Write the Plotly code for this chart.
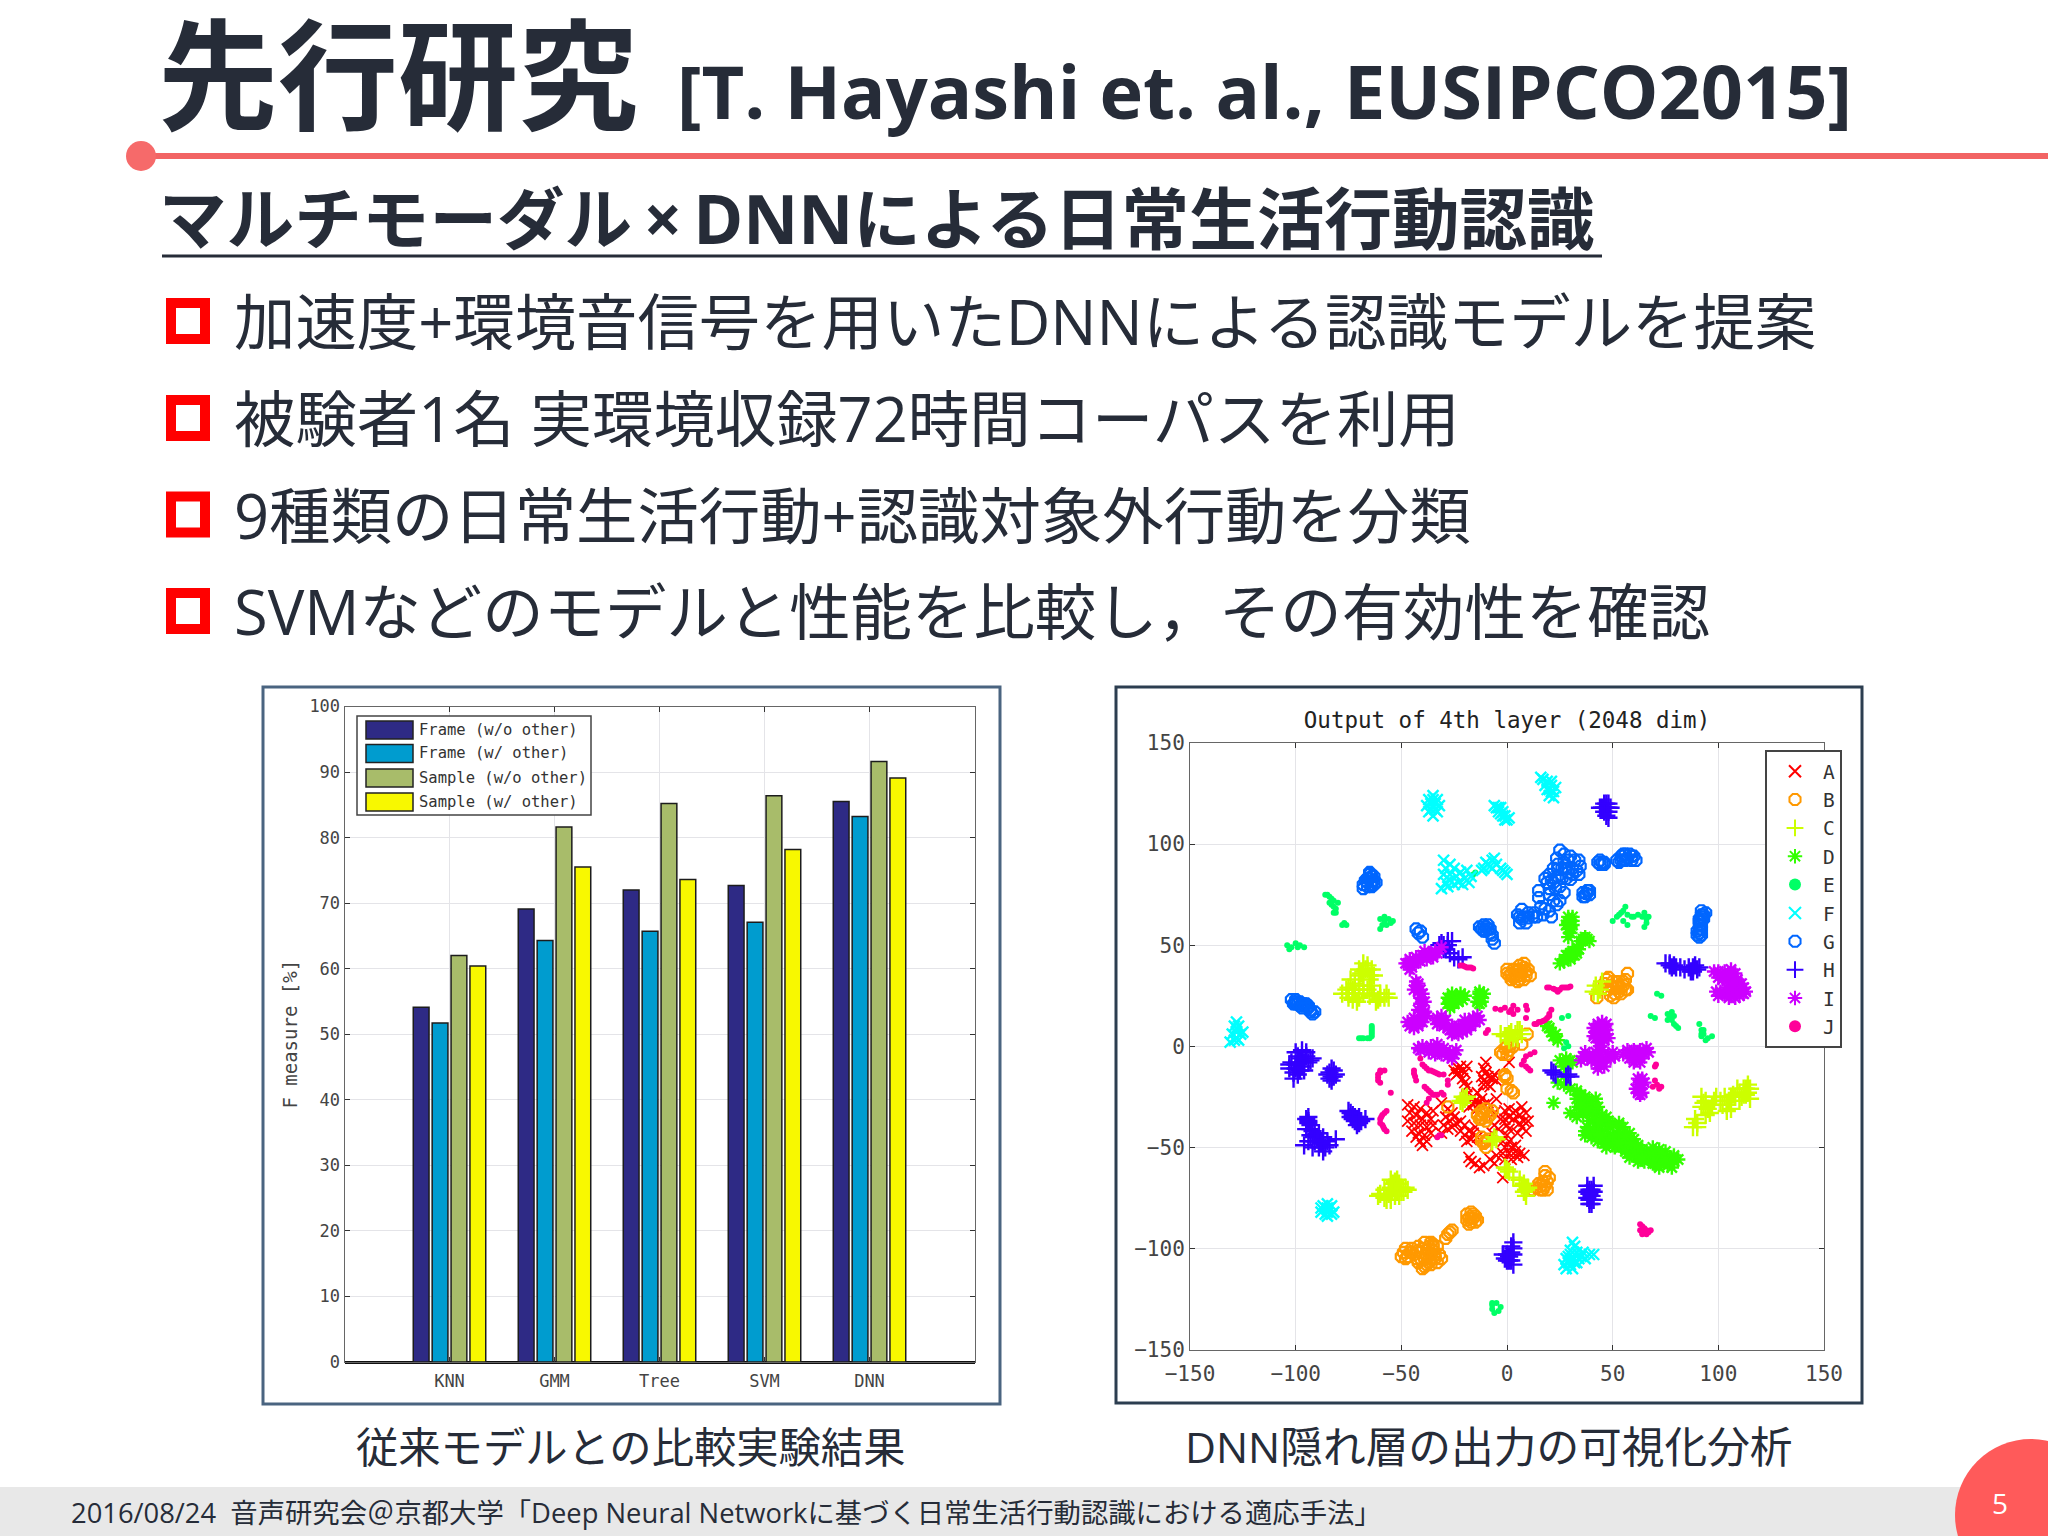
import plotly.graph_objects as go

W, H = 2048, 1536
DARK = "#262c38"
MONO = "DejaVu Sans Mono"
SANS = "Open Sans, Noto Sans CJK JP"
CJK = "Noto Sans CJK JP"

# ---------- bar chart data ----------
categories = ["KNN", "GMM", "Tree", "SVM", "DNN"]
series_names = ["Frame (w/o other)", "Frame (w/ other)", "Sample (w/o other)", "Sample (w/ other)"]
series_colors = ["#2e2a85", "#009ccf", "#a8bc6a", "#f8f800"]
frame_wo = [54.1, 69.1, 72.0, 72.7, 85.5]
frame_w = [51.7, 64.3, 65.7, 67.1, 83.2]
sample_wo = [62.0, 81.6, 85.2, 86.4, 91.6]
sample_w = [60.4, 75.5, 73.6, 78.2, 89.1]
bar_ticks = [0, 10, 20, 30, 40, 50, 60, 70, 80, 90, 100]
scatter_ticks = [-150, -100, -50, 0, 50, 100, 150]

# ---------- scatter data ----------
A = [(-47,-29),(-44,-30),(-41,-31),(-38,-33),(-35,-32),(-46,-33),(-43,-34),(-40,-36),(-36,-36),(-47,-37),(-44,-38),(-41,-39),(-38,-40),(-35,-39),(-45,-42),(-42,-43),(-39,-44),(-36,-43),(-41,-47),(-38,-47),(-43,-45),(-40,-49),
     (-31,-28),(-28,-31),(-26,-33),(-29,-35),(-27,-37),(-25,-35),(-30,-39),(-28,-41),(-26,-40),(-31,-43),(-24,-38),
     (-25,-12),(-23,-11),(-21,-12),(-23,-13),(-22,-10),(-24,-14),(-20,-13),(-19,-10),(-20,-18),(-19,-20),(-21,-16),
     (-19,-24),(-17,-26),(-15,-27),(-13,-28),(-11,-29),(-9,-28),(-16,-29),(-14,-31),(-18,-30),(-12,-26),(-14,-23),(-16,-25),
     (-10,-8),(-11,-11),(-10,-13),(-9,-15),(-12,-15),(-7,-16),(-11,-17),(-9,-19),(-6,-14),(-11,-19),(-8,-20),(-5,-17),(-5,-26),
     (-22,-37),(-20,-39),(-18,-42),(-22,-42),(-20,-44),(-17,-46),(-15,-40),(-14,-45),(-19,-47),(-16,-43),
     (-6,-33),(-3,-36),(-6,-39),(-4,-41),(-7,-43),(-1,-32),(1,-35),(3,-33),(-1,-36),
     (1,-31),(4,-32),(7,-30),(9,-33),(6,-34),(3,-36),(0,-39),(6,-38),(8,-37),(10,-37),(7,-40),(9,-42),(5,-43),(1,-41),
     (0,-44),(-2,-47),(1,-47),(-1,-50),(2,-50),(4,-49),(-2,-53),(1,-53),(4,-52),(6,-53),(-1,-56),(2,-56),(5,-55),(8,-54),
     (-18,-55),(-17,-57),(-15,-58),(-13,-60),(-11,-59),(-8,-56),(-6,-58),(-5,-54),(-2,-65),(1,-8)]
B = [(0,36),(3,38),(6,40),(8,41),(9,37),(11,35),(6,35),(2,33),(5,32),(8,33),(0,38),(4,35),
     (46,31),(48,34),(50,29),(53,27),(56,33),(57,36),(55,30),(52,32),(48,28),(49,25),(54,26),(57,28),(42.5,24),(50.5,24),
     (9.5,6),(7,1),(0,0),(-2,-4),(-3,-3),(-1,-1),(1,-2),(3,0),(0,-4),(2,1),
     (-1,-15),(2,-22),(3,-23),(0,-21),(-1,-14),(0,-16),(-28,-30),
     (-14,-34),(-12,-32),(-10,-31),(-7,-32),(-9,-35),(-12,-36),(-10,-37),(-13,-36),(-11,-48),(-12,-45),(-9,-46),(-10,-50),
     (18,-64),(19,-67),(17,-67),(16,-69),(19,-71),(14,-70),(12,-71),(17,-71),(20,-65),
     (-19,-83),(-17,-82),(-15,-84),(-19,-86),(-17,-87),(-15,-87),(-17,-85),(-28,-93),(-26,-91),(-29,-95),(-27,-92),
     (-49,-102),(-47,-104),(-45,-102),(-45,-100),(-42,-99),(-39,-97),(-36,-97),(-33,-99),(-41,-102),(-38,-101),(-35,-101),(-32,-103),(-43,-105),(-39,-105),(-36,-105),(-33,-107),(-31,-105),(-40,-110),(-38,-108),(-36,-108),(-48,-100),
     (2,36),(4,37),(6,38),(8,39),(9,35),(7,37),(3,34),(6,33),(10,38),(1,35),(50,32),(52,29),(54,29),(55,32),(56,28),(49,30),(47,33),(51,26),(53,30),
     (-46,-102),(-44,-103),(-42,-101),(-40,-100),(-37,-99),(-35,-99),(-34,-103),(-38,-103),(-41,-105),(-37,-107),(-34,-105),(-42,-107),(-39,-109),(-50,-104),(-48,-105),(-35,-98),
     (-16,-85),(-18,-85),(-16,-83),(-14,-86),(-18,-88),(18,-69),(16,-71),(15,-68),(18,-62),(-11,-33),(-8,-34),(-12,-34),(-10,-47),(-12,-47)]
C = [(-68,41),(-66,40),(-64,38),(-70,38),(-67,38),(-63,35),(-65,35),(-69,36),
     (-75,29),(-78,26),(-75,26),(-72,26),(-72,31),(-70,28),(-68,26),(-73,23),(-70,24),(-74,33),(-66,28),(-65,25),
     (-63,26),(-60,26),(-58,24),(-61,23),(-56,24),(42,30),(44,28),(43,26),(45,32),(41,27),
     (0,5),(4,6),(6,8),(3,4),(7,6),(-3,6),(2,7),(1,3),(-21,-25),(-20,-26),(-22,-27),(-21,-28),(-19,-25),
     (-6,-45),(-5,-46),(-7,-47),(-1,-60),(0,-61),(1,-62),
     (-60,-73),(-58,-75),(-55,-66),(-53,-67),(-51,-68),(-48,-70),(-55,-70),(-52,-71),(-49,-72),(-56,-73),(-53,-74),(-51,-74),(-57,-76),(-61,-74),
     (3,-65),(6,-66),(8,-68),(8,-72),(10,-70),(9,-74),
     (88,-40),(90,-38),(89,-36),(92,-25),(93,-28),(95,-31),(96,-33),(92,-30),(99,-25),(101,-27),(104,-29),(106,-31),(105,-27),(108,-25),(110,-23),(112,-21),(114,-19),(113,-24),(115,-26),(110,-27),(107,-24),(115,-21),(97,-29),
     (-66,38),(-68,37),(-70,35),(-65,33),(-76,28),(-73,28),(-70,30),(-68,30),(-73,26),(-71,22),(-75,24),(-68,28),(-64,30),(-60,24),(-57,26),(-62,22),
     (-58,-71),(-54,-68),(-52,-66),(-50,-70),(-53,-72),(-55,-76),(-50,-72),(-47,-71),
     (90,-40),(94,-27),(98,-27),(102,-29),(104,-32),(103,-25),(106,-25),(109,-21),(112,-24),(113,-21),(111,-25),(114,-23),(94,-34),
     (-1,5),(1,6),(5,4),(5,8),(7,-69),(9,-71)]
D = [(29,64),(30,62),(31,60),(29,58),(30,56),(28,60),(31,64),
     (25,41),(27,43),(29,45),(31,47),(33,46),(34,48),(30,43),(35,52),(38,53),(37,54),(39,52),(28,45),
     (-28,21),(-26,23),(-24,25),(-22,26),(-20,25),(-27,19),(-26,26),(-28,24),(-25,21),
     (-13,27),(-13,24),(-12,22),(-14,22),(-11,26),(20,9),(21,7),(22,5),(24,3),(19,10),(23,6),
     (25,-7),(28,-6),(31,-8),(28,-9),(27,-10),(30,-7),(22,-28),
     (24,-18),(27,-19),(30,-21),(33,-22),(35,-24),(37,-25),(33,-26),(36,-27),(39,-27),(42,-26),(34,-30),(37,-30),(40,-30),(43,-30),
     (30,-33),(33,-35),(36,-33),(39,-33),(42,-34),(45,-34),(47,-35),(39,-37),(42,-38),(45,-38),(48,-37),(38,-40),(41,-41),(44,-41),(47,-41),(50,-39),(53,-38),(55,-40),
     (37,-44),(40,-45),(43,-44),(46,-45),(49,-44),(52,-43),(55,-43),(58,-43),(43,-47),(46,-48),(49,-47),(52,-47),(55,-47),(58,-47),(60,-46),
     (51,-50),(54,-50),(57,-50),(60,-50),(57,-53),(60,-54),(63,-54),(66,-52),(69,-50),(72,-51),(75,-52),(62,-57),(65,-57),(68,-56),(71,-55),(74,-55),(77,-55),(79,-57),(81,-56),(70,-58),(73,-58),(76,-59),(78,-60),
     (29,61),(30,59),(31,62),(29,54),(27,42),(30,46),(32,45),(33,49),(36,53),(-23,22),(-27,22),(-24,23),(-21,23),(-13,26),(-12,24),(-13,21),
     (35,-29),(38,-32),(41,-36),(44,-37),(37,-42),(40,-43),(43,-42),(45,-47),(48,-45),(51,-45),(53,-45),(56,-45),(50,-49),(53,-48),(56,-52),(58,-55),(61,-52),(64,-51),(67,-54),(70,-53),(73,-53),(64,-56),(69,-58),(72,-60),(75,-56),(79,-54),(47,-50),(44,-44),(59,-48),(62,-49)]
E = [(-86,75),(-84,74),(-82,72),(-83,70),(-81,68),(-82,66),(-84,71),(-80,71),(-77,61),(-78,60),(-76,60),
     (-60,63),(-58,64),(-56,63),(-54,62),(-57,60),(-59,60),(-60,58),(-55,61),(-58,62),
     (-104,50),(-102,49),(-100,51),(-98,50),(-96,49),(-103,48),(-99,49),
     (-70,4),(-68,4),(-65,4),(-64,6),(-64,8),(-64,10),(-16,85),(-15,86),
     (50,62),(52,64),(54,66),(56,69),(57,65),(55,62),(57,60),(59,64),(62,65),(65,66),(67,64),(66,61),(64,64),(65,59),
     (71,26),(73,25),(68,15),(70,14),(76,16),(78,17),(79,15),(76,13),(79,11),(81,9),(77,14),
     (91,11),(92,8),(93,6),(95,4),(97,5),(92,5),(94,3),(26,14),(29,15),(28,2),(29,0),(27,-1),
     (-7,-127),(-5,-127),(-7,-130),(-4,-131),(-6,-132),(-3,-129),(-7,-128),
     (55,67),(53,65),(60,64),(66,64),(66,63),(77,15),(78,13),(80,10),(93,8),(92,6),(-69,4),(-66,4),(-64,5),(-64,7),(-64,9),(-85,75),(-83,73),(-82,69),(-81,66)]
F = [(-35,119),(-37,122),(-33,122),(-37,116),(-33,116),(-35,114),(-35,124),(-38,119),(-32,119),
     (-6,119),(-4,116),(-5,118),(-2,114),(0,112),(1,113),(-3,118),(-2,116),(-1,112),
     (17,132),(19,131),(21,129),(18,129),(20,127),(22,126),(20,124),(22,123),(23,128),(16,133),
     (-30,92),(-27,90),(-29,88),(-25,88),(-22,86),(-19,87),(-17,84),(-20,83),(-24,84),(-27,85),(-29,81),(-27,82),(-31,78),(-28,79),(-23,81),(-25,80),(-18,81),(-30,85),(-21,80),
     (-11,88),(-9,90),(-7,92),(-10,91),(-7,88),(-12,87),(-5,90),(-6,93),(-8,89),(-2,87),(0,85),(-3,88),(-1,86),
     (-128,12),(-129,10),(-127,10),(-128,7),(-130,6),(-126,6),(-129,3),(-127,3),(-131,2),(-125,7),
     (-85,-81),(-87,-79),(-83,-79),(-88,-82),(-82,-82),(-85,-84),(-85,-78),(-88,-80),(-83,-83),
     (31,-97),(32,-99),(30,-101),(33,-102),(36,-102),(39,-103),(41,-103),(28,-105),(31,-105),(34,-105),(37,-105),(27,-108),(30,-108),(33,-107),(28,-110),(31,-110),(29,-104),
     (-36,120),(-34,120),(-36,117),(-34,117),(-35,122),(-3,115),(-1,114),(-4,118),(19,127),(21,126),(21,131),(-128,9),(-128,4),(-85,-80),(-85,-82),(-86,-83),(-84,-80),
     (30,-103),(33,-104),(35,-104),(30,-106),(32,-107),(29,-107)]
G = [(-65,86),(-64,84),(-63,82),(-66,83),(-68,80),(-66,79),(-64,79),(-63,84),(-68,78),(-62,81),
     (-43,58),(-42,56),(-40,54),(-41,57),(-13,59),(-11,60),(-9,60),(-12,58),(-9,58),(-8,56),(-7,53),(-6,51),(-7,55),
     (-102,23),(-100,23),(-98,22),(-100,21),(-98,20),(-96,20),(-94,19),(-93,18),(-92,16),(-91,17),(-95,21),(-101,21),
     (25,97),(30,94),(34,92),(27,91),(31,88),(23.5,93),(34.6,89),(29,86),(24,87.5),(20,85),(18,83),(22,81),(26,83),(34,85),(30,82.5),(20,78),(27,76),(15,77),(15,73.5),(23.5,70),(20,67),(17,65),(13,66),(7,67.7),(8,64),(6,61),(10,63.5),(16,69),(21,64),(12.4,64),
     (37.5,75.5),(36,76),(39,75),(38,77),(36,74),(45,91),(43,91),(46,91),
     (52,92),(54,94),(56,95),(58,95),(60,94),(56,92),(59,92),(53,91),(61,92),
     (92,67),(94,66),(92,64),(91,62),(91,60),(91,58),(91,56),(93,63),(92,55),(90,57),
     (-65,83),(-66,81),(-64,81.5),(-67,82),(-63,80),(-65,85),(-10,59),(-11,57),(-8,58),(-10,57),(-100,22),(-99,21),(-97,21),(-96,21),(-94,20),(-97,19),(-93,17),
     (27,95),(29,92),(32,92),(28,88),(33,87),(26,88),(24,90),(22,88),(31,85),(28,83),(24,84),(21,82),(19,81),(23,78),(25,79),(20,75),(22,72),(25,72),(18,68),(14,64),(9,61),(7,63),(10,66),(5,65),(6,64),
     (55,92),(57,93),(59,94),(55,95),(54,92),(92,65),(93,65),(91,63),(92,60),(92,58),(90,55),(91,54),(92,62),(37,74),(39,77),(44,90),(44,92),(46,90)]
H_ = [(47,118),(46,116),(48,116),(45,118),(49,118),(47,114),(47,120),(44,118),
      (-31,51),(-30,50),(-28,52),(-26,52),(-32,50),(-29,48),(-27,46),(-25,44),(-23,43),(-21,44),
      (75,41),(77,41),(79,40),(82,39),(86,39),(88,39),(90,38),(91,39),(87,37),(78,39),
      (-97,-2),(-95,-5),(-99,-5),(-102,-8),(-99,-8),(-96,-8),(-93,-7),(-103,-11),(-100,-11),(-97,-10),(-101,-13),(-99,-14),(-92,-6),
      (-84,-13),(-82,-12),(-85,-14),(-82,-15),(-83,-17),(-81,-14),
      (-75,-32),(-73,-34),(-72,-35),(-71,-36),(-69,-37),(-67,-36),(-72,-37),(-71,-39),(-74,-33),
      (-94,-35),(-94,-38),(-95,-41),(-92,-42),(-93,-44),(-90,-45),(-88,-47),(-85,-47),(-81,-46),(-96,-49),(-92,-50),(-89,-50),(-87,-52),(-84,-49),(-94,-37),
      (22,-13),(23,-14),(21,-12),(29,-14),(28,-15),(30,-15),
      (38,-69),(41,-69),(38,-72),(41,-72),(40,-74),(38,-75),(41,-76),(40,-78),(39,-71),
      (3,-97),(3,-100),(2,-102),(1,-104),(-1,-105),(2,-106),(3,-108),(0,-103),
      (-100,-3),(-98,-6),(-94,-8),(-96,-12),(-103,-9),(-98,-12),(-100,-9),(-95,-3),(-101,-16),(-83,-15),(-84,-16),(-83,-11),
      (-74,-35),(-70,-35),(-73,-36),(-70,-38),(-95,-36),(-93,-39),(-93,-41),(-91,-44),(-89,-43),(-87,-45),(-86,-50),(-88,-48),(-91,-47),(-94,-47),
      (48,118),(46,118),(48,113),(46,120),(48,120),(77,40),(80,39),(84,38),(89,40),(88,37),
      (39,-73),(40,-71),(39,-76),(40,-76),(39,-78),(2,-99),(1,-106),(3,-103),(-2,-103),(0,-106),(-30,48),(-28,50)]
I_ = [(-47,41),(-46,43),(-45,39),(-43,44),(-40,45),(-37,46),(-34,47),(-31,49),(-44,42),(-42,42.5),(-36,45),
      (-43,30),(-42,27),(-41,24),(-41,21),(-40,18),(-40,15),(-41,13),(-43,12),(-45,11),(-46,10),(-44,9),(-39,17),(-43,32),(-40,26),
      (-33,14),(-32,12),(-30,10),(-27,8),(-24,8),(-22,9),(-20,10),(-18,12),(-16,14),(-14,15),(-28,9),(-25,7),
      (-42,-1),(-38,-1),(-35,-2),(-32,-2),(-29,-3),(-27,-3),(-25,-4),(-41,-2),(-36,0),(-30,-1),(-28,-5),(-33,-1),
      (43,11),(44,9),(46,10),(42,7),(45,7),(47,6),(44,5),(42,4),(46,3),(44,2),(47,8),
      (36,-5),(39,-4),(42,-3),(45,-2),(48,-4),(50,-3),(41,-6),(44,-6),(47,-6),(43,-9),(45,-8),(38,-6),
      (57,-2),(60,-2),(63,-2),(66,-1),(59,-4),(62,-4),(65,-4),(61,-6),(63,-6),
      (63,-17),(62,-19),(64,-19),(63,-21),(62,-23),(64,-16),(63,-24),
      (98,37),(100,37),(103,37),(106,38),(108,36),(100,34),(104,34),(107,33),(105,31),(108,30),(110,29),(106,28),(109,27),(112,26),(110,25),(106,26),(103,26),(100,25),(113,27),(111,31),
      (-48,41),(-46,38),(-44,41),(-41,42),(-38,43),(-35,44),(-33,46),(-39,47),
      (-44,28),(-42,31),(-41,28),(-39,22),(-42,18),(-38,15),(-42,10),(-47,12),(-44,14),(-40,12),
      (-31,15),(-29,13),(-33,11),(-26,6),(-23,6),(-21,7),(-19,8),(-17,10),(-15,12),(-13,13),(-26,10),(-23,10),(-20,13),
      (-40,0),(-37,-3),(-34,-4),(-31,-4),(-26,-6),(-24,-2),(-33,1),
      (41,9),(47,11),(48,4),(41,5),(45,12),(44,0),(37,-3),(40,-7),(43,-11),(46,-10),(49,-6),(51,-5),(35,-7),
      (55,-4),(58,-6),(67,-3),(60,-8),(63,-8),(65,-18),(61,-21),(64,-23),(62,-16),
      (105,35),(102,33),(109,33),(112,29),(104,29),(107,30),(108,24),(105,24),(99,27),(101,27)]
J = [(-22,40),(-20,39.5),(-18,39),(-16,38.5),(19,29),(22,28.5),(24,27),(26,29),(28,29),(30,29.5),
     (-3,18),(-1,19),(1,17),(3,20),(5,18),(3,16),(2,18),(-5.5,18.5),(9,20),(9.5,18),(9,14),
     (13,11),(15,12),(17,12.5),(19,14),(20,16),(21,18),(-9,8),(-10,6.5),
     (8,-7),(7,-9),(9,-5),(11,-4),(13,-3),(10,-11),(11,-12),(9,-10),
     (-60,-12),(-61,-14),(-61,-17),(-60,-18),(-58,-12),(-55,-23),(-44,-12),(-43.5,-15),(-43,-17),
     (-41,-6),(-40,-9),(-38,-11),(-36,-12),(-34,-13),(-32,-14),(-30,-14),
     (-39,-20),(-37,-22),(-35,-24),(-33,-24),(-31,-23),(-30,-24),(-28,-17),(-28,-19),(-37,-26),(-38,-28),
     (-57,-32),(-59,-34),(-60,-36),(-59,-39),(-58,-41),(-57,-42),(-32,-44),(-33,-45),(-31,-44),
     (70.5,-9),(70,-10),(70,-17),(71,-19),(73,-20),(69,-20),(72,-21),
     (63,-88),(65,-90),(63,-91),(66,-93),(68,-91),(64,-93),
     (-21,40),(-19,39),(-17,39),(20,29),(23,28),(25,28),(27,29),(29,29),(14,11),(16,12),(18,13),(20,15),(-60,-13),(-61,-15.5),(-44,-13.5),(-39,-10),(-37,-12),(-35,-12.5),(-33,-13.5),
     (-38,-21),(-36,-23),(-34,-24),(-58,-33),(-59.5,-35),(-60,-38),(-58.5,-40),(64,-89),(64,-92),(66,-91),(67,-92)]

class_names = ["A", "B", "C", "D", "E", "F", "G", "H", "I", "J"]
class_points = [A, B, C, D, E, F, G, H_, I_, J]
class_colors = ["#ff0000", "#ff9900", "#ccff00", "#33ff00", "#00ff66", "#00ffff", "#0066ff", "#3300ff", "#cc00ff", "#ff0099"]
class_symbols = ["x-thin-open", "octagon-open", "cross-thin-open", "asterisk-open", "circle", "x-thin-open", "octagon-open", "cross-thin-open", "asterisk-open", "circle"]
class_sizes = [11, 12, 13, 12, 6, 11, 12, 13, 12, 6]
class_widths = [1.8, 2.2, 2.4, 2.4, 0, 2.4, 2.2, 2.4, 2.4, 0]

# ---------- slide text ----------
title_jp = "先行研究"
title_ref = "[T. Hayashi et. al., EUSIPCO2015]"
subtitle = "マルチモーダル\u2009×\u2009DNNによる日常生活行動認識"
bullets = ["加速度+環境音信号を用いたDNNによる認識モデルを提案",
           "被験者1名 実環境収録72時間コーパスを利用",
           "9種類の日常生活行動+認識対象外行動を分類",
           "SVMなどのモデルと性能を比較し，その有効性を確認"]
caption_left = "従来モデルとの比較実験結果"
caption_right = "DNN隠れ層の出力の可視化分析"
footer = "2016/08/24  音声研究会＠京都大学「Deep Neural Networkに基づく日常生活行動認識における適応手法」"
page_number = "5"

def px(x): return x / W
def py(y): return 1 - y / H

fig = go.Figure()
for name, color, vals in zip(series_names, series_colors, [frame_wo, frame_w, sample_wo, sample_w]):
    fig.add_trace(go.Bar(x=categories, y=vals, name=name, marker=dict(color=color, line=dict(color="#1c1c1c", width=1.5)),
                         xaxis="x", yaxis="y", showlegend=False))
for name, pts, color, sym, size, lw in zip(class_names, class_points, class_colors, class_symbols, class_sizes, class_widths):
    xs, ys = zip(*pts)
    mk = dict(color=color, symbol=sym, size=size)
    if sym != "circle":
        mk["line"] = dict(color=color, width=lw)
    fig.add_trace(go.Scatter(x=xs, y=ys, mode="markers", name=name, marker=mk, xaxis="x2", yaxis="y2"))

shapes, ann = [], []
def rect(x0, y0, x1, y1, line=None, lw=0, fill=None, layer="below"):
    shapes.append(dict(type="rect", xref="paper", yref="paper", x0=px(x0), x1=px(x1), y0=py(y0), y1=py(y1),
                       line=dict(color=line, width=lw) if line else dict(width=0), fillcolor=fill, layer=layer))
def line(x0, y0, x1, y1, color, lw):
    shapes.append(dict(type="line", xref="paper", yref="paper", x0=px(x0), x1=px(x1), y0=py(y0), y1=py(y1),
                       line=dict(color=color, width=lw), layer="below"))
def circle(cx, cy, r, fill):
    shapes.append(dict(type="circle", xref="paper", yref="paper", x0=px(cx-r), x1=px(cx+r), y0=py(cy+r), y1=py(cy-r),
                       fillcolor=fill, line=dict(width=0), layer="below"))
def text(x, y, s, size, family=SANS, color=DARK, anchor="left", bold=False, height=None):
    item = dict(xref="paper", yref="paper", x=px(x), y=py(y), text=f"<b>{s}</b>" if bold else s, showarrow=False,
                xanchor=anchor, yanchor="middle", font=dict(family=family, size=size, color=color))
    if height:
        item["height"] = height
    ann.append(item)

# footer, header
rect(0, 1487, W, H, fill="#e8e8e8")
line(141, 156, W, 156, "#f26464", 6)
circle(141, 156, 15, "#f66a6a")
circle(2031, 1515, 76, "#ff5a5a")
line(162, 256, 1602, 256, DARK, 3)
# frames
rect(263, 687, 1000, 1404, line="#4a6480", lw=3)
rect(1116, 687, 1862, 1403, line="#2c3e50", lw=3)
# bullets
for yc in [321, 418, 514.5, 611]:
    rect(171, yc-18, 205, yc+18, line="#ff0000", lw=10)

text(156, 69, title_jp, 120, family=CJK, bold=True, height=130)
text(675, 91, title_ref, 73.9, bold=True)
text(157, 218, subtitle, 67.6, bold=True)
for yc, b in zip([321, 418, 514.5, 611], bullets):
    text(232, yc, b, 61.4)
text(630, 1446, caption_left, 42.3, anchor="center")
text(1489, 1446, caption_right, 42.7, anchor="center")
text(69, 1512, footer, 27.35)
text(2000, 1503, page_number, 28, color="#ffffff", anchor="center")

# bar legend
rect(357, 716, 591, 815, line="#444444", lw=1.5, fill="#ffffff", layer="above")
for yc, name, color in zip([730, 753.5, 778, 802], series_names, series_colors):
    rect(366, yc-9, 413, yc+9, line="#222222", lw=1.5, fill=color, layer="above")
    text(417, yc, name, 15.5, family=MONO, color="#333333")

fig.update_layout(
    width=W, height=H, margin=dict(l=0, r=0, t=0, b=0, autoexpand=False), paper_bgcolor="#ffffff", plot_bgcolor="#ffffff",
    barmode="group", bargap=0.28, bargroupgap=0.165,
    shapes=shapes, annotations=ann,
    title=dict(text="Output of 4th layer (2048 dim)", x=px(1507), y=py(720), xanchor="center", yanchor="middle",
               xref="paper", yref="paper", font=dict(family=MONO, size=22.5, color="#222222")),
    xaxis=dict(domain=[px(344.5), px(974.5)], range=[-1, 5], type="category", categoryorder="array", categoryarray=categories,
               showgrid=True, gridcolor="#e4e4e8", showline=True, linecolor="#666666", linewidth=1, mirror="ticks",
               ticks="inside", ticklen=5, tickcolor="#333333", ticklabelstandoff=4, tickfont=dict(family=MONO, size=17, color="#444444")),
    yaxis=dict(domain=[py(1362), py(706.5)], range=[0, 100], tickvals=bar_ticks, showgrid=True, gridcolor="#e4e4e8",
               showline=True, linecolor="#666666", linewidth=1, mirror="ticks", ticks="inside", ticklen=5, tickcolor="#333333",
               zeroline=True, zerolinecolor="#111111", zerolinewidth=2.5, automargin=True,
               tickfont=dict(family=MONO, size=17, color="#444444"),
               title=dict(text="F measure [%]", standoff=6, font=dict(family=MONO, size=19, color="#444444"))),
    xaxis2=dict(domain=[px(1190), px(1824)], range=[-150, 150], tickvals=scatter_ticks, anchor="y2", showgrid=True, gridcolor="#e4e4e8",
                zeroline=False, showline=True, linecolor="#666666", linewidth=1, mirror="ticks", ticks="inside", ticklen=5,
                tickcolor="#333333", ticklabelstandoff=5, tickfont=dict(family=MONO, size=21, color="#444444")),
    yaxis2=dict(domain=[py(1349.5), py(743)], range=[-150, 150], tickvals=scatter_ticks, anchor="x2", showgrid=True, gridcolor="#e4e4e8",
                zeroline=False, showline=True, linecolor="#666666", linewidth=1, mirror="ticks", ticks="inside", ticklen=5,
                tickcolor="#333333", tickfont=dict(family=MONO, size=21, color="#444444")),
    legend=dict(x=px(1765), y=py(750), xanchor="left", yanchor="top", bgcolor="#ffffff", bordercolor="#444444", borderwidth=2,
                font=dict(family=MONO, size=19.5, color="#333333"), itemsizing="constant", itemwidth=46, tracegroupgap=0),
)
fig.write_html("out.html", post_script="document.body.style.margin='0';", config=dict(displayModeBar=False))
